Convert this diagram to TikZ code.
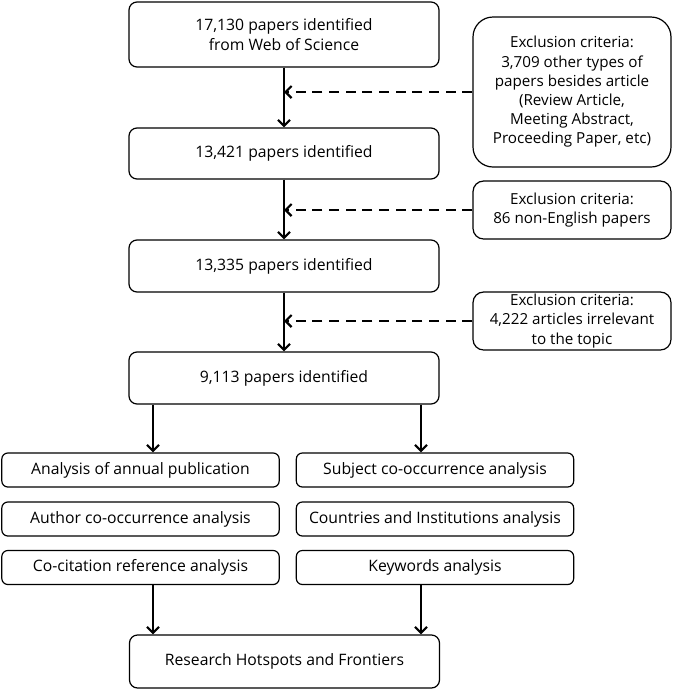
\documentclass[tikz,border=0pt]{standalone}
\usepackage{fontspec}
\setmainfont{Open Sans}
\usetikzlibrary{positioning, calc, arrows.meta}

\begin{document}
\begin{tikzpicture}[x=0.75pt,y=0.75pt,yscale=-1,xscale=1,
  mainbox/.style={draw, line width=0.9pt, rounded corners=6pt, align=center, inner sep=0.75pt,
    minimum width=232.5pt, font=\fontsize{11.8}{14.4}\selectfont},
  exclbox/.style={draw, line width=0.9pt, rounded corners=8pt, align=center, inner sep=0.75pt,
    minimum width=148.5pt, minimum height=43.5pt, font=\fontsize{11.4}{14.4}\selectfont},
  rowbox/.style={draw, line width=0.9pt, rounded corners=4.5pt, align=center, inner sep=0.75pt,
    minimum width=208pt, minimum height=25.5pt, font=\fontsize{11.8}{14.4}\selectfont},
  flowarrow/.style={line width=1.6pt, -{Straight Barb[length=4.5pt,width=9pt,line width=1.6pt]}},
  exclarrow/.style={line width=1.6pt, dash pattern=on 7.5pt off 5pt, -{Straight Barb[length=4.5pt,width=9pt,line width=1.6pt]}}]
\useasboundingbox (0,0) rectangle (675,690);

% Main column
\node [mainbox, minimum height=48.75pt] (wos) at (284,34.5) {17,130 papers identified\\from Web of Science};
\node [mainbox, minimum height=38.25pt] (n1) at (284,153.5) {13,421 papers identified};
\node [mainbox, minimum height=39pt] (n2) at (284,266) {13,335 papers identified};
\node [mainbox, minimum height=39pt] (n3) at (284,378) {9,113 papers identified};

% Exclusion criteria
\node [exclbox, rounded corners=15pt, minimum height=112.5pt] (ex1) at (572,92) {Exclusion criteria:\\3,709 other types of\\papers besides article\\(Review Article,\\Meeting Abstract,\\Proceeding Paper, etc)};
\node [exclbox] (ex2) at (572,210) {Exclusion criteria:\\86 non-English papers};
\node [exclbox] (ex3) at (572,321) {Exclusion criteria:\\4,222 articles irrelevant\\to the topic};

% Analyses
\node [rowbox] (annual) at (140.5,470) {Analysis of annual publication};
\node [rowbox] (author) at (140.5,519) {Author co-occurrence analysis};
\node [rowbox] (cocite) at (140.5,567.5) {Co-citation reference analysis};
\node [rowbox] (subject) at (435,470) {Subject co-occurrence analysis};
\node [rowbox] (country) at (435,519) {Countries and Institutions analysis};
\node [rowbox] (keyword) at (435,567.5) {Keywords analysis};

\node [mainbox, minimum height=39.75pt] (hot) at (284.5,661.5) {Research Hotspots and Frontiers};

\coordinate (lx) at (153,0);
\coordinate (rx) at (421,0);

% Arrows
\draw [flowarrow] (wos) -- (n1);
\draw [flowarrow] (n1) -- (n2);
\draw [flowarrow] (n2) -- (n3);
\draw [exclarrow] (ex1.west) -- (ex1.west -| wos.south);
\draw [exclarrow] (ex2.west) -- (ex2.west -| n1.south);
\draw [exclarrow] (ex3.west) -- (ex3.west -| n2.south);
\draw [flowarrow] (n3.south -| lx) -- (annual.north -| lx);
\draw [flowarrow] (n3.south -| rx) -- (subject.north -| rx);
\draw [flowarrow] (cocite.south -| lx) -- (hot.north -| lx);
\draw [flowarrow] (keyword.south -| rx) -- (hot.north -| rx);
\end{tikzpicture}
\end{document}
